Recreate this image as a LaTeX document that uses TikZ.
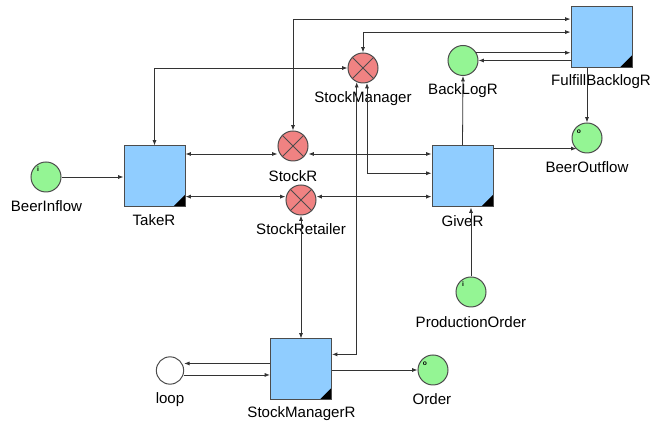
\documentclass[tikz,border=0pt]{standalone}
\usepackage{fontspec}
\setmainfont{Liberation Sans}
\usetikzlibrary{arrows.meta}

\definecolor{blockblue}{RGB}{144,205,255}
\definecolor{varred}{RGB}{240,130,130}
\definecolor{portgreen}{RGB}{148,245,148}

\begin{document}
\begin{tikzpicture}[x=0.75pt, y=-0.75pt, >={Latex[length=4pt,width=3pt]},
block/.style={rectangle, draw=black!70, line width=0.75pt, fill=blockblue, minimum size=45.75pt, inner sep=0pt,
    path picture={\fill[black] (path picture bounding box.south east) -- ++(-9pt,0pt) -- ++(9pt,9pt) -- cycle;}},
var/.style={circle, draw=black!70, line width=0.75pt, fill=varred, minimum size=22.5pt, inner sep=0pt,
    path picture={\draw[black!70, line width=0.6pt] (path picture bounding box.north west) -- (path picture bounding box.south east)
        (path picture bounding box.north east) -- (path picture bounding box.south west);}},
port/.style={circle, draw=black!70, line width=0.75pt, fill=portgreen, minimum size=22.5pt, inner sep=0pt},
inport/.style={port, path picture={\node[font=\fontsize{5}{5}\selectfont\bfseries, inner sep=0pt]
    at ([shift={(-6pt,6pt)}]path picture bounding box.center) {i};}},
outport/.style={port, path picture={\node[font=\fontsize{5}{5}\selectfont\bfseries, inner sep=0pt]
    at ([shift={(-6pt,5pt)}]path picture bounding box.center) {o};}},
loopnode/.style={circle, draw=black!70, line width=0.75pt, fill=white, minimum size=20.5pt, inner sep=0pt},
lbl/.style={anchor=base, inner sep=0pt, font=\fontsize{11.3}{13}\selectfont},
link/.style={draw=black!80, line width=0.6pt}]

\useasboundingbox (0,0) rectangle (651,423);

\node[inport] (beerIn) at (46,177) {};
\node[block] (takeR) at (154.5,176.5) {};
\node[var] (stockR) at (293,146) {};
\node[var] (stockRet) at (301,200) {};
\node[var] (stockMgr) at (363,68) {};
\node[block] (giveR) at (462.5,176.5) {};
\node[port] (backLog) at (463,60.5) {};
\node[block] (fulfil) at (601.5,37) {};
\node[outport] (beerOut) at (587,138) {};
\node[inport] (prodOrder) at (471,292) {};
\node[loopnode] (loop) at (170,370.5) {};
\node[block] (smgrR) at (301,369.5) {};
\node[outport] (order) at (433,370) {};

\node[lbl] (beerIn-l) at (46.5,212) {BeerInflow};
\node[lbl] (takeR-l) at (154,226) {TakeR};
\node[lbl] (stockR-l) at (293,182) {StockR};
\node[lbl] (stockRet-l) at (301,235) {StockRetailer};
\node[lbl] (stockMgr-l) at (363,103) {StockManager};
\node[lbl] (giveR-l) at (462.5,227) {GiveR};
\node[lbl] (backLog-l) at (463,95) {BackLogR};
\node[lbl] (fulfil-l) at (601,86) {FulfillBacklogR};
\node[lbl] (beerOut-l) at (587,173) {BeerOutflow};
\node[lbl] (prodOrder-l) at (471,328) {ProductionOrder};
\node[lbl] (loop-l) at (170,404) {loop};
\node[lbl] (smgrR-l) at (301.5,418) {StockManagerR};
\node[lbl] (order-l) at (432,405) {Order};

\draw[link,->] (beerIn.east) -- (beerIn.east -| takeR.west);
\draw[link,<->] (takeR.36) -- (takeR.36 -| stockR.west);
\draw[link,<->] (stockR.east |- giveR.144) -- (giveR.144);
\draw[link,<->] (takeR.-33) -- (takeR.-33 -| stockRet.west);
\draw[link,<->] (stockRet.east |- giveR.213) -- (giveR.213);
\draw[link,<->] (stockR.north) |- (fulfil.150);
\draw[link,<->] (takeR.north) |- (stockMgr.west);
\draw[link,<->] (stockMgr.north) |- (fulfil.171);
\draw[link,->] (backLog.30) -- (backLog.30 -| fulfil.west);
\draw[link,->] (fulfil.west |- backLog.east) -- (backLog.east);
\draw[link,->] (beerOut.north |- fulfil.south) -- (beerOut.north);
\draw[link,->] (giveR.north) -- (backLog.south);
\draw[link,->] (giveR.42) -- (giveR.42 -| beerOut.227);
\draw[link,<->] (stockMgr.-75) |- (giveR.174);
\draw[link,<->] (stockMgr.-114) |- (smgrR.26);
\draw[link,<->] (stockRet.south) -- (smgrR.north);
\draw[link,->] (smgrR.169) -- (smgrR.169 -| loop.east);
\draw[link,->] (loop.east |- smgrR.190) -- (smgrR.190);
\draw[link,->] (smgrR.east |- order.west) -- (order.west);
\draw[link,->] (prodOrder.north) -- (prodOrder.north |- giveR.south);
\end{tikzpicture}
\end{document}
